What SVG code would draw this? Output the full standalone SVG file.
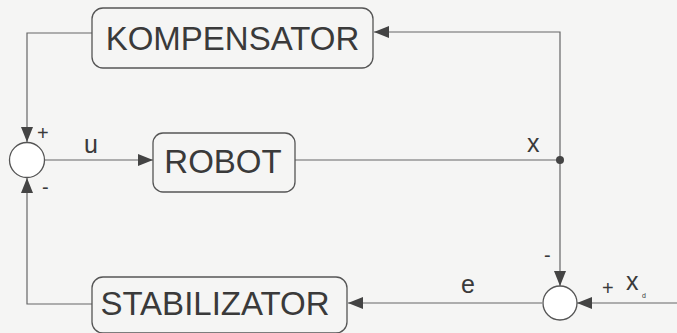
<svg xmlns="http://www.w3.org/2000/svg" width="677" height="333" viewBox="0 0 677 333">
<style>
.box{fill:none;stroke:#555;stroke-width:1.3}
.ln{fill:none;stroke:#666;stroke-width:1.2}
.t{font-family:"Liberation Sans",Arial,sans-serif;fill:#3a3a3a}
.big{font-size:33px}
.lab{font-size:25px}
.sg{font-size:20px}
</style>
<defs>
<marker id="ah" viewBox="0 0 15 12" refX="15" refY="6" markerWidth="15" markerHeight="12" markerUnits="userSpaceOnUse" orient="auto">
<path d="M0,0 L15,6 L0,12 Z" fill="#444"/>
</marker>
</defs>
<rect width="677" height="333" fill="#f5f5f4"/>
<g id="connectors">
<path class="ln" d="M560,160 V32 H374" marker-end="url(#ah)"/>
<path class="ln" d="M92,33 H27 V142" marker-end="url(#ah)"/>
<path class="ln" d="M45,160 H153" marker-end="url(#ah)"/>
<path class="ln" d="M295,160 H560 V286" marker-end="url(#ah)"/>
<path class="ln" d="M677,303 H577" marker-end="url(#ah)"/>
<path class="ln" d="M542,303 H348" marker-end="url(#ah)"/>
<path class="ln" d="M92,304 H27 V178" marker-end="url(#ah)"/>
<circle cx="560" cy="160" r="4" fill="#444"/>
<text class="t lab" x="527" y="152">x</text>
<text class="t lab" x="84" y="153">u</text>
<text class="t lab" x="461" y="293">e</text>
<text class="t lab" x="626" y="290">x</text>
<text class="t" style="font-size:7px" x="642" y="298">d</text>
<text class="t sg" x="602" y="295">+</text>
<text class="t sg" x="544" y="262">-</text>
<text class="t sg" x="37" y="140">+</text>
<text class="t sg" x="42" y="194">-</text>
</g>
<g id="sum1"><circle cx="27" cy="160" r="17.5" fill="#fff" stroke="#555" stroke-width="1.3"/></g>
<g id="sum2"><circle cx="560" cy="303" r="17" fill="#fff" stroke="#555" stroke-width="1.3"/></g>
<g id="kompensator">
<rect class="box" x="92" y="8" width="281" height="60" rx="11"/>
<text class="t big" x="232.5" y="50" text-anchor="middle">KOMPENSATOR</text>
</g>
<g id="robot">
<rect class="box" x="153" y="133" width="142" height="59" rx="10"/>
<text class="t big" x="223" y="173" text-anchor="middle">ROBOT</text>
</g>
<g id="stabilizator">
<rect class="box" x="92" y="277" width="255" height="56" rx="11"/>
<text class="t big" x="215" y="315" text-anchor="middle">STABILIZATOR</text>
</g>
</svg>
